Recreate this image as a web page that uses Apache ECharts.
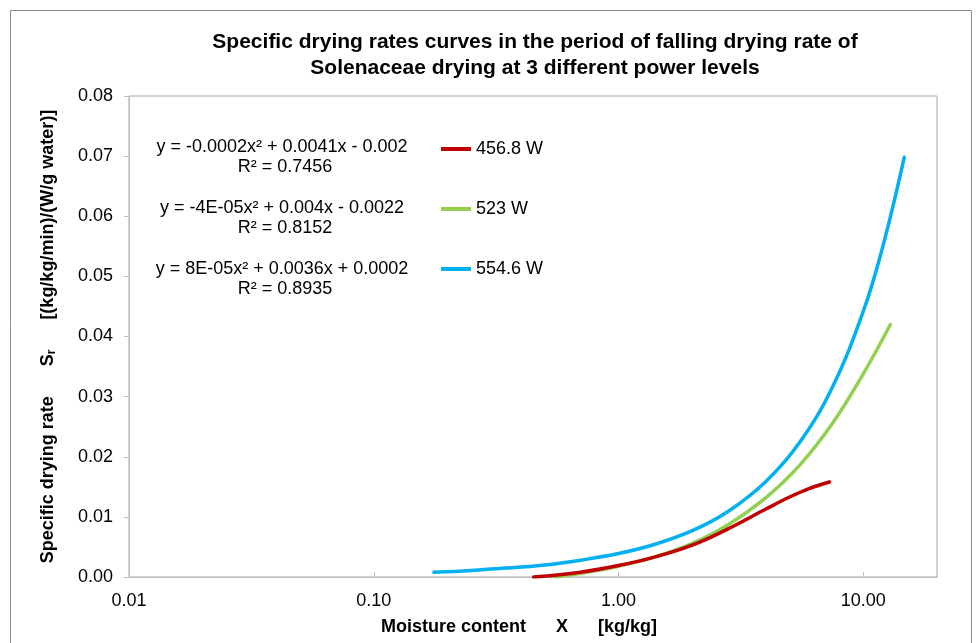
<!DOCTYPE html>
<html>
<head>
<meta charset="utf-8">
<title>Specific drying rates</title>
<script src="https://cdn.jsdelivr.net/npm/echarts@6.0.0/dist/echarts.min.js"></script>
<style>
    html, body {
        margin: 0;
        padding: 0;
        background: #fff;
    }
    #chart {
        width: 980px;
        height: 643px;
    }
</style>
</head>
<body>
<div id="chart"></div>
<script>
// values (moisture content X, specific drying rate Sr)
var seriesNames = ['456.8 W', '523 W', '554.6 W']
var colors = ['#c00000', '#92d050', '#00b0f0']

var xRed = [0.45, 0.7, 1.0, 1.4, 2.0, 2.8, 4.0, 5.0, 6.0, 7.27]
var yRed = [0.0000, 0.0008, 0.0019, 0.0033, 0.0053, 0.0080, 0.0113, 0.0133, 0.0147, 0.0158]

var xGreen = [0.55, 0.7, 1.0, 1.4, 2.0, 2.8, 4.0, 5.5, 7.5, 10.0, 12.9]
var yGreen = [0.0000, 0.0006, 0.0018, 0.0033, 0.0056, 0.0087, 0.0132, 0.0186, 0.0256, 0.0338, 0.0420]

var xBlue = [0.176, 0.25, 0.35, 0.5, 0.7, 1.0, 1.4, 2.0, 2.8, 4.0, 5.5, 7.5, 10.0, 12.0, 14.7]
var yBlue = [0.0008, 0.0011, 0.0015, 0.0020, 0.0028, 0.0039, 0.0054, 0.0077, 0.0109, 0.0159, 0.0224, 0.0317, 0.0442, 0.0549, 0.0698]

var trendLines = [
    ['y = -0.0002x² + 0.0041x - 0.002', 'R² = 0.7456'],
    ['y = -4E-05x² + 0.004x - 0.0022', 'R² = 0.8152'],
    ['y = 8E-05x² + 0.0036x + 0.0002', 'R² = 0.8935'],
]

var yTicks = { min: 0, max: 0.08, interval: 0.01 }

var FONT = '"Liberation Sans", Arial, sans-serif'

function pairs(xs, ys) {
    return xs.map(function (x, i) {
        return [x, ys[i]]
    })
}

var chart = echarts.init(document.getElementById('chart'))

var graphics = [
    {
        type: 'rect',
        shape: { x: 10.5, y: 10.5, width: 961, height: 640 },
        style: { fill: 'none', stroke: '#8c8c8c', lineWidth: 1 },
        silent: true,
    },
    {
        type: 'text',
        x: 519,
        y: 627,
        style: {
            text: 'Moisture content      X      [kg/kg]',
            font: 'bold 18px ' + FONT,
            fill: '#000',
            align: 'center',
            verticalAlign: 'middle',
        },
    },
]
trendLines.forEach(function (t, i) {
    graphics.push({
        type: 'text',
        x: 282,
        y: 147 + i * 61,
        style: {
            text: t[0],
            font: '18px ' + FONT,
            fill: '#000',
            align: 'center',
            verticalAlign: 'middle',
        },
    })
    graphics.push({
        type: 'text',
        x: 285,
        y: 167 + i * 61,
        style: {
            text: t[1],
            font: '18px ' + FONT,
            fill: '#000',
            align: 'center',
            verticalAlign: 'middle',
        },
    })
})

var options = {
    animation: false,
    color: colors,
    textStyle: { fontFamily: FONT },
    title: {
        text: 'Specific drying rates curves in the period of falling drying rate of\nSolenaceae drying at 3 different power levels',
        left: 530,
        top: 24,
        textAlign: 'center',
        textStyle: {
            fontFamily: FONT,
            fontSize: 21,
            fontWeight: 'bold',
            color: '#000',
            lineHeight: 26,
        },
    },
    legend: {
        orient: 'vertical',
        left: 436,
        top: 135,
        itemGap: 42,
        itemWidth: 30,
        itemHeight: 4,
        icon: 'rect',
        textStyle: { fontFamily: FONT, fontSize: 18, color: '#000' },
        data: seriesNames,
    },
    grid: {
        left: 129,
        right: 43,
        top: 96,
        bottom: 66,
        show: true,
        borderColor: '#a6a6a6',
        borderWidth: 1,
    },
    xAxis: {
        type: 'log',
        logBase: 10,
        min: 0.01,
        max: 20,
        axisLine: { show: true, lineStyle: { color: '#c0c0c0' } },
        axisTick: { show: true, inside: true, length: 5, lineStyle: { color: '#c0c0c0' } },
        splitLine: { show: false },
        minorTick: { show: false },
        axisLabel: {
            color: '#000',
            fontSize: 18,
            margin: 15,
            showMaxLabel: false,
            formatter: function (v) {
                return Number(v).toFixed(2)
            },
        },
    },
    yAxis: {
        type: 'value',
        min: yTicks.min,
        max: yTicks.max,
        interval: yTicks.interval,
        name: '{a|Specific drying rate      S}{s|r}{a|      [(kg/kg/min)/(W/g water)]}',
        nameLocation: 'middle',
        nameGap: 71,
        nameRotate: 90,
        nameTextStyle: {
            rich: {
                a: { fontFamily: FONT, fontSize: 18, fontWeight: 'bold', color: '#000' },
                s: { fontFamily: FONT, fontSize: 12, fontWeight: 'bold', color: '#000', verticalAlign: 'bottom', padding: [7, 0, 0, 0] },
            },
        },
        axisLine: { show: true, lineStyle: { color: '#c0c0c0' } },
        axisTick: { show: true, inside: false, length: 5, lineStyle: { color: '#c0c0c0' } },
        splitLine: { show: false },
        axisLabel: {
            color: '#000',
            fontSize: 18,
            margin: 16,
            formatter: function (v) {
                return v.toFixed(2)
            },
        },
    },
    graphic: graphics,
    series: [
        { name: seriesNames[0], data: pairs(xRed, yRed) },
        { name: seriesNames[1], data: pairs(xGreen, yGreen) },
        { name: seriesNames[2], data: pairs(xBlue, yBlue) },
    ].map(function (s, i) {
        return {
            name: s.name,
            type: 'line',
            data: s.data,
            smooth: 0.4,
            showSymbol: false,
            symbol: 'none',
            lineStyle: { width: 3.5, color: colors[i], cap: 'round' },
            z: 3 - i,
        }
    }),
}

chart.setOption(options)
</script>
</body>
</html>
